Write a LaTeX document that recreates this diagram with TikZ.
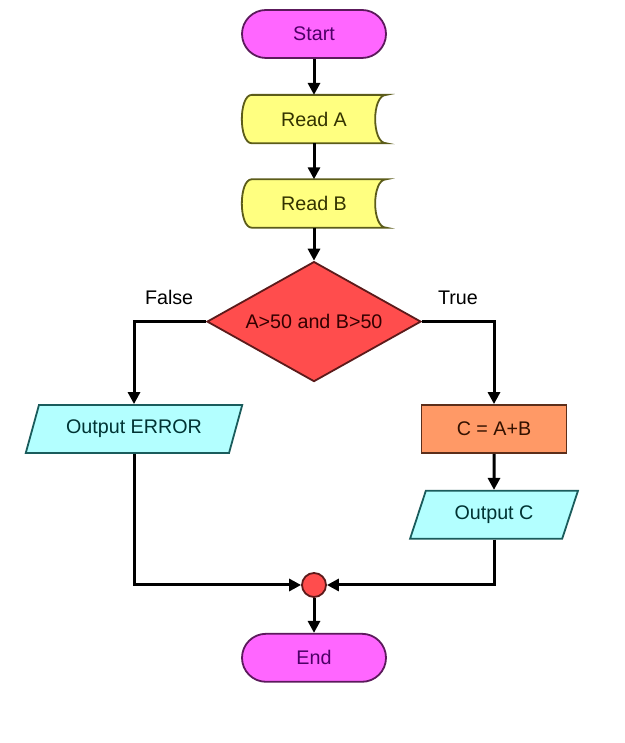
\documentclass[tikz,border=0pt]{standalone}
\usepackage{fontspec}
\setmainfont{Liberation Sans}
\usetikzlibrary{positioning,shapes.geometric,arrows.meta,backgrounds}
\definecolor{termfill}{HTML}{FF66FF}
\definecolor{termline}{HTML}{5C1A5C}
\definecolor{termtext}{HTML}{4D0066}
\definecolor{readfill}{HTML}{FFFF80}
\definecolor{readline}{HTML}{5C5C1A}
\definecolor{readtext}{HTML}{333300}
\definecolor{condfill}{HTML}{FF4D4D}
\definecolor{condline}{HTML}{5C1A1A}
\definecolor{condtext}{HTML}{330000}
\definecolor{outfill}{HTML}{B3FFFF}
\definecolor{outline}{HTML}{1A5C5C}
\definecolor{outtext}{HTML}{003333}
\definecolor{calcfill}{HTML}{FF9966}
\definecolor{calcline}{HTML}{5C2E1A}
\definecolor{calctext}{HTML}{331100}
\tikzset{
  every node/.style={font=\fontsize{19.7}{23}\selectfont},
  terminal/.style={draw=termline, fill=termfill, text=termtext, line width=1.8pt, rectangle, rounded corners=24pt, minimum width=144pt, minimum height=48pt},
  readbox/.style={rectangle, text=readtext, minimum width=144pt, minimum height=48pt},
  decision/.style={draw=condline, fill=condfill, text=condtext, line width=1.8pt, diamond, aspect=1.78, inner sep=0pt, minimum width=214pt, minimum height=120pt},
  iobox/.style={draw=outline, fill=outfill, text=outtext, line width=1.8pt, trapezium, trapezium left angle=68, trapezium right angle=112, trapezium stretches=true, minimum height=48pt},
  calcbox/.style={draw=calcline, fill=calcfill, text=calctext, line width=1.8pt, rectangle, minimum width=145pt, minimum height=48pt},
  joinpt/.style={draw=condline, fill=condfill, line width=1.8pt, circle, inner sep=0pt, minimum size=24pt},
  flow/.style={line width=3pt, -{Triangle[length=12pt,width=12pt]}}
}
% stored data outline round a readbox node
\newcommand\storedshape[1]{%
  \begin{scope}[on background layer]
    \draw[draw=readline, fill=readfill, line width=1.8pt]
      ([xshift=10pt]#1.north west) -- (#1.north east)
      .. controls ([xshift=-14.7pt]#1.north east) and ([xshift=-14.7pt]#1.south east) .. (#1.south east)
      -- ([xshift=10pt]#1.south west)
      .. controls ([xshift=-3.3pt]#1.south west) and ([xshift=-3.3pt]#1.north west) .. cycle;
  \end{scope}}

\begin{document}
\begin{tikzpicture}[x=1pt, y=1pt, node distance=36pt]
  \begin{scope}[on background layer]
    \fill[white] (0,0) rectangle (624,743);
  \end{scope}
  \useasboundingbox (0,0) rectangle (624,743);

  % main column
  \node (start) [terminal] at (314,709) {Start};
  \node (reada) [readbox, below=of start] {Read A};
  \storedshape{reada}
  \node (readb) [readbox, below=of reada] {Read B};
  \storedshape{readb}
  \node (cond) [decision, below=33pt of readb] {A>50 and B>50};

  % branches
  \node (err) [iobox, minimum width=217pt] at (134,314) {Output ERROR};
  \node (sum) [calcbox] at (494,314) {C = A+B};
  \node (outc) [iobox, minimum width=168pt, below=of sum] {Output C};
  \node (lblfalse) at ([xshift=-37pt, yshift=24pt]cond.west) {False};
  \node (lbltrue) at ([xshift=36pt, yshift=24pt]cond.east) {True};

  % merge
  \node (join) [joinpt] at (314,158) {};
  \node (end) [terminal, below=35pt of join] {End};

  \draw[flow] (start) -- (reada);
  \draw[flow] (reada) -- (readb);
  \draw[flow] (readb) -- (cond);
  \draw[flow] (cond.west) -| (err.north);
  \draw[flow] (cond.east) -| (sum.north);
  \draw[flow] (sum) -- (outc);
  \draw[flow] (err.south) |- (join);
  \draw[flow] (outc.south) |- (join);
  \draw[flow] (join) -- (end);
\end{tikzpicture}
\end{document}
